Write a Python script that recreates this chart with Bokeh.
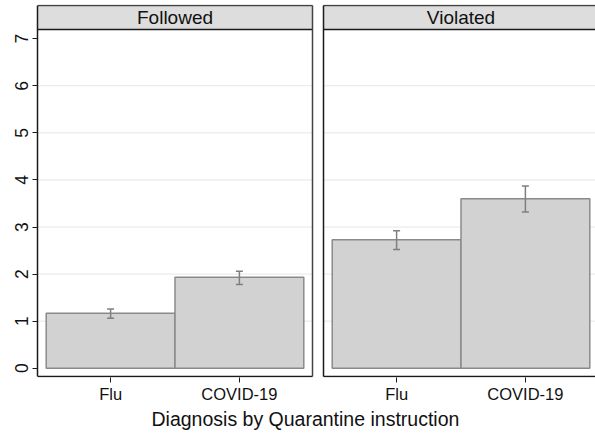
from bokeh.plotting import figure
from bokeh.models import Range1d, FixedTicker, Whisker, TeeHead, ColumnDataSource, Title
from bokeh.core.properties import value
from bokeh.embed import file_html
from bokeh.resources import INLINE

# ---- data ----
categories = ["Flu", "COVID-19"]
panel_labels = ["Followed", "Violated"]
followed_mean = [1.17, 1.93]
followed_lo = [1.06, 1.78]
followed_hi = [1.26, 2.06]
violated_mean = [2.73, 3.60]
violated_lo = [2.52, 3.32]
violated_hi = [2.92, 3.87]
y_ticks = [0, 1, 2, 3, 4, 5, 6, 7]
x_title = "Diagnosis by Quarantine instruction"

# ---- style / layout constants (pixels) ----
FONT = "Liberation Sans"
W, H = 595, 433
P1_LEFT, P1_RIGHT, P2_LEFT, FRAME_RIGHT = 37, 312, 323, 595
FRAME_TOP, FRAME_BOTTOM = 4, 378
ZERO_PX, PX_PER_Y = 368.7, 47.2
TITLE_LEFT_PX = 151
PAD = 0.0676
BAR_FILL = "#d1d2d1"
BAR_LINE = "#8a8a8a"
ERR_COLOR = "#7f7f7f"
STRIP_FILL = "#dcdddc"
AXIS_COLOR = "#1a1a1a"
BORDER_COLOR = "#444444"
GRID_COLOR = "#e6e6e6"
TEXT_COLOR = "#111111"

n = len(categories)
unit = (P1_RIGHT - P1_LEFT) / (n + 2 * PAD)
span = (FRAME_RIGHT - P1_LEFT) / unit
off = (P2_LEFT - P1_LEFT) / unit


def ydata(px):
    return (ZERO_PX - px) / PX_PER_Y


Y_START, Y_END = ydata(FRAME_BOTTOM), ydata(FRAME_TOP)
STRIP_TOP, STRIP_BOTTOM, AXIS_Y = ydata(5), ydata(29), ydata(377)

p = figure(output_backend="svg", toolbar_location=None, title=None,
           width=W, height=H,
           x_range=Range1d(-PAD, -PAD + span), y_range=Range1d(Y_START, Y_END),
           min_border=0, min_border_left=P1_LEFT, min_border_right=0,
           min_border_top=FRAME_TOP, min_border_bottom=H - FRAME_BOTTOM)
p.extra_x_ranges = {"p2": Range1d(-PAD - off, -PAD - off + span)}
p.background_fill_color = "white"
p.border_fill_color = "white"
p.outline_line_color = None
p.grid.visible = False

xs = [i + 0.5 for i in range(n)]


def draw_panel(rname, label, means, lo, hi, x_end, first):
    kw = dict(x_range_name=rname)
    g = y_ticks[1:-1]
    p.segment(x0=[-PAD] * len(g), x1=[x_end] * len(g), y0=g, y1=g,
              line_color=GRID_COLOR, line_width=1, level="underlay", **kw)
    p.vbar(x=xs, top=means, bottom=0, width=1.0, fill_color=BAR_FILL,
           line_color=BAR_LINE, line_width=1.5, **kw)
    src = ColumnDataSource(dict(x=xs, lo=lo, hi=hi))
    w = Whisker(source=src, base="x", lower="lo", upper="hi", dimension="height",
                line_color=ERR_COLOR, line_width=1.5, x_range_name=rname,
                upper_head=TeeHead(size=7, line_color=ERR_COLOR, line_width=1.5),
                lower_head=TeeHead(size=7, line_color=ERR_COLOR, line_width=1.5))
    w.level = "overlay"
    p.add_layout(w)
    # strip
    p.quad(left=[-PAD], right=[x_end], bottom=[STRIP_BOTTOM], top=[STRIP_TOP],
           fill_color=STRIP_FILL, line_color=None, **kw)
    p.segment(x0=[-PAD], x1=[x_end], y0=[STRIP_BOTTOM], y1=[STRIP_BOTTOM],
              line_color=AXIS_COLOR, line_width=1.5, **kw)
    p.segment(x0=[-PAD], x1=[x_end], y0=[STRIP_TOP], y1=[STRIP_TOP],
              line_color=BORDER_COLOR, line_width=1.5, **kw)
    p.text(x=[n / 2], y=[(STRIP_BOTTOM + STRIP_TOP) / 2], text=[label],
           text_font=value(FONT), text_font_size="19px", text_align="center",
           text_baseline="middle", text_color=TEXT_COLOR, **kw)
    # panel box lines
    p.segment(x0=[-PAD], x1=[x_end], y0=[AXIS_Y], y1=[AXIS_Y],
              line_color=AXIS_COLOR, line_width=1.5, **kw)
    if first:
        p.segment(x0=[x_end], x1=[x_end], y0=[AXIS_Y], y1=[STRIP_TOP],
                  line_color=BORDER_COLOR, line_width=1.5, **kw)
    else:
        p.segment(x0=[-PAD], x1=[-PAD], y0=[AXIS_Y], y1=[STRIP_TOP],
                  line_color=AXIS_COLOR, line_width=1.5, **kw)


draw_panel("default", panel_labels[0], followed_mean, followed_lo, followed_hi,
           n + PAD, True)
draw_panel("p2", panel_labels[1], violated_mean, violated_lo, violated_hi,
           -PAD + (FRAME_RIGHT - P2_LEFT) / unit, False)

# x axis (ticks for both panels on the default range)
tick_pos = xs + [x + off for x in xs]
tick_lab = categories + categories
xa = p.xaxis[0]
xa.ticker = FixedTicker(ticks=tick_pos)
xa.major_label_overrides = {t: c for t, c in zip(tick_pos, tick_lab)}
xa.minor_tick_line_color = None
xa.axis_line_color = None
xa.major_tick_in = 0
xa.major_tick_out = 5
xa.major_tick_line_color = AXIS_COLOR
xa.major_tick_line_width = 1
xa.major_label_standoff = 2
xa.major_label_text_font = FONT
xa.major_label_text_font_size = "16.5px"
xa.major_label_text_color = TEXT_COLOR

# overall x title, placed below the axis
xt = Title(text=x_title, align="left", offset=TITLE_LEFT_PX - P1_LEFT,
           vertical_align="top", standoff=4, text_font=FONT,
           text_font_size="19.5px", text_font_style="normal",
           text_color=TEXT_COLOR)
p.add_layout(xt, "below")

# y axis
ya = p.yaxis[0]
ya.ticker = FixedTicker(ticks=y_ticks)
ya.bounds = (AXIS_Y, STRIP_TOP)
ya.minor_tick_line_color = None
ya.axis_line_color = AXIS_COLOR
ya.axis_line_width = 1.5
ya.major_tick_in = 0
ya.major_tick_out = 5
ya.major_tick_line_color = AXIS_COLOR
ya.major_label_orientation = "vertical"
ya.major_label_standoff = 4
ya.major_label_text_font = FONT
ya.major_label_text_font_size = "17.5px"
ya.major_label_text_color = TEXT_COLOR

open("out.html", "w").write(file_html(p, INLINE))
